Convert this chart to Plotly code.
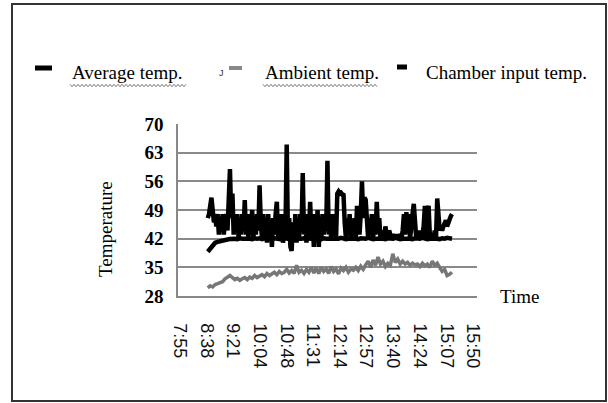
import plotly.graph_objects as go

# ---- data ----
tick_labels = ["7:55", "8:38", "9:21", "10:04", "10:48", "11:31",
               "12:14", "12:57", "13:40", "14:24", "15:07", "15:50"]
y_ticks = [28, 35, 42, 49, 56, 63, 70]

start_time = "8:40"
step_fast = 2   # minutes between chamber input samples
step_slow = 4   # minutes between average / ambient samples

chamber_input = [
    47, 48, 50, 52, 49, 46, 47, 45, 48, 43,
    47, 44, 48, 43, 46, 48, 44, 50, 59, 47,
    53, 43, 48, 44, 48, 42, 47, 43, 48, 44,
    51.4, 43, 47, 42, 48, 44, 49, 42, 47, 43,
    48, 44, 55, 46, 42, 48, 43, 47, 41, 48,
    42, 46, 40, 47, 43, 48, 51, 42, 47, 43,
    48, 41, 46, 44, 65, 42, 47, 40, 39, 46,
    42, 48, 41, 47, 42, 48, 44, 58, 43, 48,
    41, 47, 43, 51, 42, 47, 40, 48, 42, 49,
    40, 46, 42, 48, 43, 47, 44, 61, 43, 47,
    42, 48, 43, 46, 42, 53, 53.5, 53, 53.2, 52.8,
    53, 46, 42, 47, 43, 48, 42, 46, 43, 47,
    42, 50, 44, 43, 48, 56, 47, 52, 51.5, 45,
    42, 47, 43, 48, 42, 46, 43, 51, 44, 47,
    42, 43, 44, 42, 45, 43, 42, 44, 43, 42,
    43, 42.5, 43, 42, 43, 42.5, 43, 42, 44, 48,
    43, 48.5, 44, 48, 42, 47, 48, 50.5, 43, 42,
    43, 42, 44, 42, 43, 45, 50, 42, 49, 50,
    43, 42, 43, 42, 44, 42, 51.8, 46, 44, 45,
    44, 45, 46, 46.5, 45, 46, 47, 47.5, 48]

average = [38.8, 39.6, 40.4, 41.0, 41.2, 41.4, 41.5, 41.7, 41.8, 41.9,
           42.0, 42.0, 41.9, 42.1, 42.0, 42.0, 42.2, 42.0, 41.9, 42.1,
           42.0, 42.1, 41.9, 42.0, 42.2, 42.0, 41.9, 42.1, 42.0, 42.0,
           41.8, 42.0, 42.1, 41.9, 42.0, 42.2, 42.0, 41.9, 42.0, 42.1,
           42.0, 41.9, 42.0, 42.2, 42.0, 42.0, 41.9, 42.1, 42.0, 42.0,
           42.1, 41.9, 42.0, 42.0, 42.2, 42.0, 41.9, 42.0, 42.1, 42.0,
           42.0, 41.9, 42.1, 42.0, 42.0, 42.2, 42.0, 41.9, 42.0, 42.1,
           42.0, 42.0, 41.9, 42.1, 42.0, 42.0, 42.2, 42.0, 41.9, 42.0,
           42.1, 42.0, 42.0, 41.9, 42.1, 42.0, 42.0, 42.2, 42.0, 41.9,
           42.0, 42.1, 42.0, 42.0, 41.9, 42.1, 42.0, 42.2, 42.1, 42.0]

ambient = [30.0, 30.5, 30.2, 30.8, 31.0, 31.2, 31.5, 32.2, 32.6, 33.0,
           32.5, 32.0, 32.3, 31.8, 32.2, 32.5, 32.0, 32.6, 32.3, 33.0,
           32.5, 32.8, 33.2, 32.7, 33.5, 33.0, 33.4, 33.8, 33.2, 34.0,
           33.5, 33.8, 34.5, 33.6, 34.2, 33.5, 35.5, 33.8, 34.3, 33.5,
           34.5, 33.8, 35.0, 33.6, 34.8, 33.5, 35.0, 34.0, 34.6, 33.5,
           35.2, 34.0, 34.6, 33.4, 34.8, 34.2, 35.0, 33.8, 34.6, 34.3,
           35.0, 34.2, 35.3, 34.5, 35.6, 36.5, 35.0, 36.8, 35.5, 37.5,
           35.8, 36.5, 35.2, 36.0, 35.5, 38.3, 36.2, 37.0, 35.8, 36.5,
           35.8, 36.2, 35.5, 36.0, 35.6, 35.8, 35.2, 36.0, 35.4, 35.8,
           35.0, 36.5, 35.5, 36.0, 35.0, 34.0, 34.5, 33.0, 33.3, 33.8]


def to_min(s):
    h, m = s.split(":")
    return int(h) * 60 + int(m)


t0 = to_min(start_time)
times_fast = [t0 + i * step_fast for i in range(len(chamber_input))]
times_slow = [t0 + i * step_slow for i in range(len(average))]
tick_vals = [to_min(s) for s in tick_labels]

W, H = 608, 403
L, R, T, B = 178, 477, 124, 296


def px(x):
    return (x - L) / (R - L)


def py(y):
    return (B - y) / (B - T)


fig = go.Figure()
fig.add_trace(go.Scatter(x=times_slow, y=ambient, mode="lines", name="Ambient temp.",
                         line=dict(color="#777777", width=3.5)))
fig.add_trace(go.Scatter(x=times_slow, y=average, mode="lines", name="Average temp.",
                         line=dict(color="#000000", width=4.5)))
fig.add_trace(go.Scatter(x=times_fast, y=chamber_input, mode="lines",
                         name="Chamber input temp.",
                         line=dict(color="#000000", width=4.5)))

serif = "Liberation Serif, Times New Roman, serif"
sans = "Liberation Sans, Arial, sans-serif"

x0 = tick_vals[0] - 2 / 0.617
x1 = tick_vals[-1] + 4 / 0.617

fig.update_layout(
    width=W, height=H,
    margin=dict(l=L, r=W - R, t=T, b=H - B, pad=0),
    paper_bgcolor="white", plot_bgcolor="white",
    showlegend=False,
    xaxis=dict(range=[x0, x1], tickvals=tick_vals, ticktext=tick_labels,
               tickangle=90, showgrid=False, zeroline=False,
               showline=True, linecolor="#888888", linewidth=1.5,
               ticks="", ticklabelstandoff=22,
               tickfont=dict(family=sans, size=18, color="#111111")),
    yaxis=dict(range=[28, 70], tickvals=y_ticks, showgrid=True,
               gridcolor="#8a8a8a", gridwidth=1.5, zeroline=False,
               showline=True, linecolor="#888888", linewidth=1.5,
               ticks="", ticklabelstandoff=9,
               tickfont=dict(family=serif, size=19, color="#000000",
                             weight="bold")),
)


def squiggle(xa, xb, yc):
    pts = []
    x = xa
    k = 0
    while x <= xb:
        yy = yc + (1.2 if k % 2 else -1.2)
        pts.append(f"{px(x):.5f},{py(yy):.5f}")
        x += 2
        k += 1
    return "M" + " L".join(pts)


shapes = [
    # outer frame
    dict(type="rect", xref="paper", yref="paper",
         x0=px(12), x1=px(606), y0=py(401), y1=py(4),
         line=dict(color="#333333", width=2), layer="below"),
    # legend markers
    dict(type="line", xref="paper", yref="paper", x0=px(35), x1=px(52),
         y0=py(68), y1=py(68), line=dict(color="#000000", width=5)),
    dict(type="line", xref="paper", yref="paper", x0=px(229), x1=px(242),
         y0=py(68), y1=py(68), line=dict(color="#888888", width=4)),
    dict(type="line", xref="paper", yref="paper", x0=px(397), x1=px(407),
         y0=py(67), y1=py(67), line=dict(color="#000000", width=5)),
    # spell-check squiggles under legend texts
    dict(type="path", xref="paper", yref="paper", path=squiggle(70, 186, 85.5),
         line=dict(color="#555555", width=0.8)),
    dict(type="path", xref="paper", yref="paper", path=squiggle(263, 378, 85.5),
         line=dict(color="#555555", width=0.8)),
]

annotations = [
    dict(text="Average temp.", x=px(70), y=py(73), xanchor="left", yanchor="middle"),
    dict(text="Ambient temp.", x=px(263), y=py(73), xanchor="left", yanchor="middle"),
    dict(text="Chamber input temp.", x=px(424), y=py(73), xanchor="left", yanchor="middle"),
    dict(text="Time", x=px(519), y=py(296), xanchor="center", yanchor="middle"),
    dict(text="Temperature", x=px(105), y=py(229), xanchor="center", yanchor="middle",
         textangle=-90),
]
for a in annotations:
    a.update(xref="paper", yref="paper", showarrow=False,
             font=dict(family=serif, size=19, color="#000000"))
annotations.append(dict(text="J", x=px(217), y=py(66), xref="paper", yref="paper",
                        showarrow=False, font=dict(family=sans, size=9, color="#333333")))

fig.update_layout(shapes=shapes, annotations=annotations)
fig.write_html("out.html", config={"displayModeBar": False})

with open("out.html", "r", encoding="utf-8") as f:
    html = f.read()
html = html.replace("<head>", "<head><style>html,body{margin:0;padding:0;overflow:hidden}</style>", 1)
with open("out.html", "w", encoding="utf-8") as f:
    f.write(html)
